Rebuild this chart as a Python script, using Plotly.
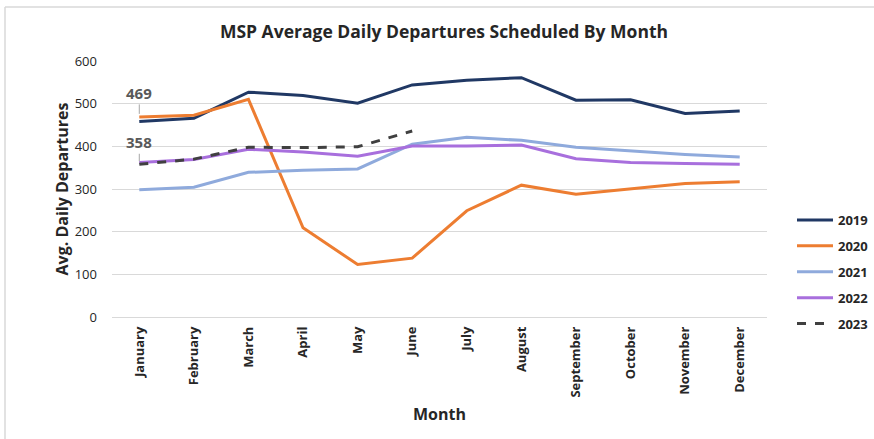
import plotly.graph_objects as go

months = ["January", "February", "March", "April", "May", "June", "July",
          "August", "September", "October", "November", "December"]
y2019 = [458, 466, 527, 519, 501, 544, 555, 561, 508, 509, 477, 483]
y2020 = [469, 473, 510, 209, 123, 138, 249, 309, 288, 300, 313, 317]
y2021 = [298, 304, 339, 344, 347, 405, 421, 414, 398, 390, 381, 375]
y2022 = [362, 369, 393, 387, 377, 401, 401, 403, 371, 362, 360, 358]
y2023 = [358, 370, 398, 397, 399, 436]
y_ticks = [0, 100, 200, 300, 400, 500, 600]

FONT = "Open Sans"
series = [
    ("2019", y2019, "#203864", "solid"),
    ("2020", y2020, "#ED7D31", "solid"),
    ("2021", y2021, "#8FAADC", "solid"),
    ("2022", y2022, "#A86FDD", "solid"),
    ("2023", y2023, "#404040", "dash"),
]

fig = go.Figure()
for name, vals, color, dash in series:
    fig.add_trace(go.Scatter(
        x=months[:len(vals)], y=vals, name="<b>" + name + "</b>", mode="lines",
        line=dict(color=color, width=3, dash=dash),
        legendgroup=name,
    ))

fig.add_annotation(x=months[0], y=y2020[0], text="<b>469</b>", showarrow=True,
                   arrowhead=0, arrowwidth=1, arrowcolor="#A6A6A6", ax=0, ay=-24,
                   standoff=3, font=dict(family=FONT, size=15, color="#595959"))
fig.add_annotation(x=months[0], y=y2023[0], text="<b>358</b>", showarrow=True,
                   arrowhead=0, arrowwidth=1, arrowcolor="#A6A6A6", ax=0, ay=-22,
                   standoff=3, font=dict(family=FONT, size=15, color="#595959"))

fig.update_layout(
    width=874, height=439,
    margin=dict(l=112, r=107, t=61, b=122),
    paper_bgcolor="white", plot_bgcolor="white",
    font=dict(family=FONT, color="#262626"),
    title=dict(text="<b>MSP Average Daily Departures Scheduled By Month</b>",
               x=444 / 874, xref="container", xanchor="center",
               y=1 - 32 / 439, yref="container", yanchor="middle",
               font=dict(family=FONT, size=17.5, color="#262626")),
    showlegend=True,
    legend=dict(xref="container", yref="container", x=792 / 874, y=1 - 205 / 439,
                xanchor="left", yanchor="top", tracegroupgap=6, itemwidth=36,
                font=dict(family=FONT, size=13, color="#262626"),
                bgcolor="rgba(0,0,0,0)"),
    xaxis=dict(
        title=dict(text="<b>Month</b>", font=dict(family=FONT, size=16, color="#262626"),
                   standoff=12),
        range=[-0.5, 11.5], automargin=False,
        tickangle=-90, showgrid=False, showline=False, zeroline=False,
        tickfont=dict(family=FONT, size=13, color="#262626"),
        ticks="", ticklabelstandoff=6, tickprefix="<b>", ticksuffix="</b>",
    ),
    yaxis=dict(
        title=dict(text="<b>Avg. Daily Departures</b>",
                   font=dict(family=FONT, size=16, color="#262626"), standoff=2),
        range=[0, 600], tickvals=y_ticks, showgrid=True, gridcolor="#D9D9D9",
        gridwidth=1, zeroline=True, zerolinecolor="#D9D9D9", zerolinewidth=1,
        showline=False, ticks="", ticklabelstandoff=14, automargin=False,
        tickprefix="<b>", ticksuffix="</b>",
        tickfont=dict(family=FONT, size=13, color="#262626"),
    ),
    shapes=[
        dict(type="line", xref="paper", yref="paper",
             x0=(5 - 112) / 655, x1=(5 - 112) / 655, y0=(317 - 7) / 256, y1=(317 - 445) / 256,
             line=dict(color="#D9D9D9", width=1.5)),
        dict(type="line", xref="paper", yref="paper",
             x0=(5 - 112) / 655, x1=(880 - 112) / 655, y0=(317 - 7) / 256, y1=(317 - 7) / 256,
             line=dict(color="#D9D9D9", width=1.5)),
    ],
)

fig.write_html("out.html", config={"displayModeBar": False},
               post_script="document.body.style.margin='0';")
